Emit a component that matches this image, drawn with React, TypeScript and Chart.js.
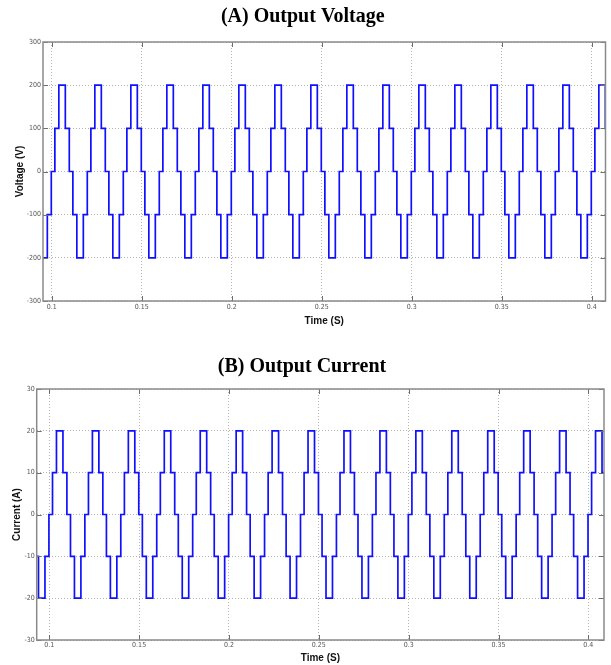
import React, { useEffect, useRef } from "react";
import { Chart, registerables } from "chart.js";

Chart.register(...registerables);

// ---- Data ----
// Centres of the positive half-cycles (s)
const cycleCenters = [
  0.0858, 0.1058, 0.1258, 0.1458, 0.1658, 0.1858, 0.2058, 0.2258, 0.2458,
  0.2658, 0.2858, 0.3058, 0.3258, 0.3458, 0.3658, 0.3858, 0.4058,
];
// Switching instants relative to each centre (s) and the level reached after each switch
const switchOffsets = [-0.004, -0.0018, 0.0018, 0.004, 0.006, 0.0082, 0.0118, 0.014];
const voltageLevels = [100, 200, 100, 0, -100, -200, -100, 0];
const currentLevels = [10, 20, 10, 0, -10, -20, -10, 0];

const timeTicks = [0.1, 0.15, 0.2, 0.25, 0.3, 0.35, 0.4];
const timeTickLabels = ["0.1", "0.15", "0.2", "0.25", "0.3", "0.35", "0.4"];
const voltageTicks = [-300, -200, -100, 0, 100, 200, 300];
const currentTicks = [-30, -20, -10, 0, 10, 20, 30];

const TICK_FONT = "'Liberation Sans Narrow', 'DejaVu Sans Condensed', 'Liberation Sans', Arial, sans-serif";
const LABEL_FONT = "'Liberation Sans', Arial, sans-serif";
const TITLE_FONT = "'Liberation Serif', 'Times New Roman', serif";

function buildWave(levels: number[]) {
  const pts: { x: number; y: number }[] = [];
  cycleCenters.forEach((c) =>
    switchOffsets.forEach((o, i) => pts.push({ x: +(c + o).toFixed(5), y: levels[i] }))
  );
  return pts;
}

const framePlugin = {
  id: "matlabFrame",
  afterDatasetsDraw(chart: any) {
    const { ctx, chartArea } = chart;
    const { left, right, top, bottom } = chartArea;
    const xs = chart.scales.x;
    const ys = chart.scales.y;
    ctx.save();
    ctx.strokeStyle = "#6e6e6e";
    ctx.lineWidth = 1;
    ctx.beginPath();
    xs.ticks.forEach((t: any) => {
      const p = Math.round(xs.getPixelForValue(t.value)) + 0.5;
      ctx.moveTo(p, bottom);
      ctx.lineTo(p, bottom - 5);
      ctx.moveTo(p, top);
      ctx.lineTo(p, top + 5);
    });
    ys.ticks.forEach((t: any) => {
      const p = Math.round(ys.getPixelForValue(t.value)) + 0.5;
      ctx.moveTo(left, p);
      ctx.lineTo(left + 5, p);
      ctx.moveTo(right, p);
      ctx.lineTo(right - 5, p);
    });
    ctx.stroke();
    ctx.strokeStyle = "#8a8a8a";
    ctx.lineWidth = 1.5;
    ctx.strokeRect(left, top, right - left, bottom - top);
    ctx.restore();
  },
};

interface PanelProps {
  top: number;
  height: number;
  title: string;
  yLabel: string;
  levels: number[];
  yTicks: number[];
  xMin: number;
  xMax: number;
  yWidth: number;
  rightPad: number;
  titlePadTop: number;
  titlePadBottom: number;
  xAxisHeight: number;
  xTickPad: number;
  xTitlePadBottom: number;
  yTitlePadTop: number;
}

function Panel(p: PanelProps) {
  const ref = useRef<HTMLCanvasElement>(null);
  useEffect(() => {
    if (!ref.current) return;
    const chart = new Chart(ref.current, {
      type: "line",
      data: {
        datasets: [
          {
            data: buildWave(p.levels),
            borderColor: "#1010ff",
            borderWidth: 1.7,
            pointRadius: 0,
            stepped: true,
            fill: false,
          },
        ],
      },
      options: {
        animation: false,
        responsive: false,
        maintainAspectRatio: false,
        events: [],
        layout: { padding: { left: 0, right: p.rightPad, top: 0, bottom: 0 } },
        plugins: {
          legend: { display: false },
          tooltip: { enabled: false },
          title: {
            display: true,
            text: p.title,
            color: "#000",
            font: { family: TITLE_FONT, size: 20, weight: "bold" },
            padding: { top: p.titlePadTop, bottom: p.titlePadBottom },
          },
        },
        scales: {
          x: {
            type: "linear",
            min: p.xMin,
            max: p.xMax,
            afterBuildTicks: (scale: any) => {
              scale.ticks = timeTicks.map((v) => ({ value: v }));
            },
            afterFit: (scale: any) => {
              scale.height = p.xAxisHeight;
            },
            ticks: {
              color: "#555",
              font: { family: TICK_FONT, size: 7 },
              padding: p.xTickPad,
              maxRotation: 0,
              autoSkip: false,
              callback: (v: any) => {
                const i = timeTicks.findIndex((t) => Math.abs(t - Number(v)) < 1e-9);
                return i >= 0 ? timeTickLabels[i] : "";
              },
            },
            grid: { color: "#b4b4b4", lineWidth: 1, drawTicks: false },
            border: { display: false, dash: [1, 2] },
            title: {
              display: true,
              text: "Time (S)",
              color: "#111",
              font: { family: LABEL_FONT, size: 10, weight: "bold" },
              padding: { top: 0, bottom: p.xTitlePadBottom },
            },
          },
          y: {
            type: "linear",
            min: p.yTicks[0],
            max: p.yTicks[p.yTicks.length - 1],
            afterBuildTicks: (scale: any) => {
              scale.ticks = p.yTicks.map((v) => ({ value: v }));
            },
            afterFit: (scale: any) => {
              scale.width = p.yWidth;
            },
            ticks: {
              color: "#555",
              font: { family: TICK_FONT, size: 7 },
              padding: 2,
              autoSkip: false,
              callback: (v: any) => String(v),
            },
            grid: { color: "#b4b4b4", lineWidth: 1, drawTicks: false },
            border: { display: false, dash: [1, 2] },
            title: {
              display: true,
              text: p.yLabel,
              color: "#111",
              font: { family: LABEL_FONT, size: 10, weight: "bold" },
              padding: { top: p.yTitlePadTop, bottom: 0 },
            },
          },
        },
      } as any,
      plugins: [framePlugin],
    });
    return () => chart.destroy();
  }, []);
  return (
    <canvas
      ref={ref}
      width={611}
      height={p.height}
      style={{ position: "absolute", left: 0, top: p.top, width: 611, height: p.height, display: "block" }}
    />
  );
}

export default function App() {
  return (
    <div style={{ position: "absolute", left: 0, top: 0, width: 611, height: 665, background: "#fff" }}>
      <Panel
        top={0}
        height={330}
        title="(A) Output Voltage"
        yLabel="Voltage (V)"
        levels={voltageLevels}
        yTicks={voltageTicks}
        xMin={0.0952}
        xMax={0.4077}
        yWidth={43}
        rightPad={5.5}
        titlePadTop={5}
        titlePadBottom={13}
        xAxisHeight={29}
        xTickPad={1.5}
        xTitlePadBottom={2.3}
        yTitlePadTop={14.5}
      />
      <Panel
        top={335}
        height={330}
        title="(B) Output Current"
        yLabel="Current (A)"
        levels={currentLevels}
        yTicks={currentTicks}
        xMin={0.093}
        xMax={0.4087}
        yWidth={36.7}
        rightPad={7}
        titlePadTop={20}
        titlePadBottom={10}
        xAxisHeight={25}
        xTickPad={0.8}
        xTitlePadBottom={1}
        yTitlePadTop={11}
      />
    </div>
  );
}
